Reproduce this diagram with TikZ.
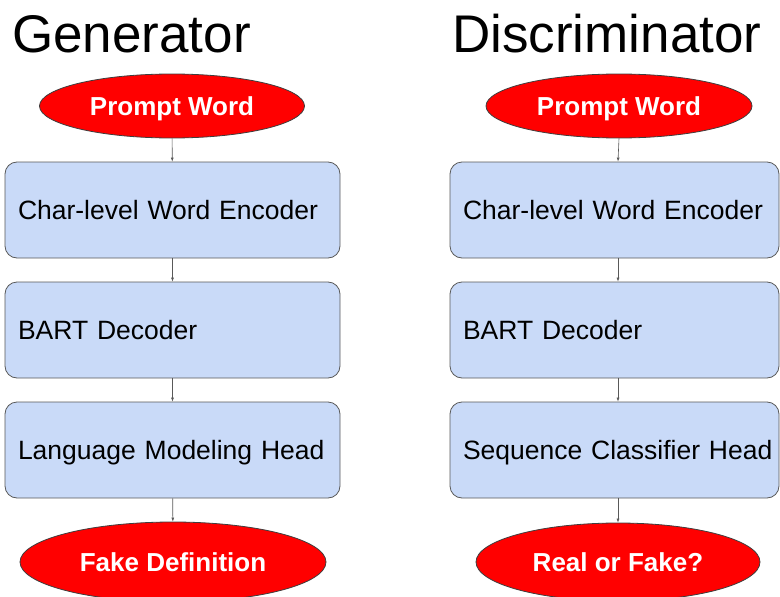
\documentclass[tikz,border=0pt]{standalone}
\usepackage{fontspec}
\setmainfont{Liberation Sans}
\usetikzlibrary{arrows.meta,shapes.geometric}
\definecolor{boxblue}{HTML}{C9DAF8}
\definecolor{edgegray}{HTML}{595959}
\tikzset{
  title/.style={font=\fontsize{53}{60}\selectfont, anchor=base west, inner sep=0pt},
  blockbox/.style={draw=edgegray, line width=0.8pt, fill=boxblue, rounded corners=12pt,
    minimum height=96pt, inner xsep=13pt, align=left, text depth=0pt,
    font=\fontsize{26.5}{30}\selectfont},
  terminal/.style={ellipse, draw=edgegray!70!black, line width=0.8pt, fill=red, text=white,
    inner sep=0pt, text depth=0pt, font=\fontsize{26}{30}\selectfont\bfseries},
  flow/.style={draw=edgegray, line width=0.6pt, -{Latex[length=4pt,width=3pt]}}
}
\begin{document}
\begin{tikzpicture}[x=1pt,y=-1pt]
  \useasboundingbox (0,0) rectangle (780,597);
  \clip (0,0) rectangle (780,597);

  %%%%% GENERATOR %%%%%
  \node[title] (gentitle) at (12,52) {Generator};
  \node[terminal, minimum width=265pt, minimum height=64pt] (genin) at (172,106) {Prompt Word};
  \node[blockbox, text width=309pt] (genenc) at (172.5,210) {\mbox{Char-level Word Encoder}};
  \node[blockbox, text width=309pt] (gendec) at (172.5,330) {\mbox{BART Decoder}};
  \node[blockbox, text width=309pt] (genhead) at (172.5,450) {\mbox{Language Modeling Head}};
  \node[terminal, minimum width=306pt, minimum height=80pt] (genout) at (173,562) {Fake Definition};

  \draw[flow] (genin) -- (genenc);
  \draw[flow] (genenc) -- (gendec);
  \draw[flow] (gendec) -- (genhead);
  \draw[flow] (genhead) -- (genout);

  %%%%% DISCRIMINATOR %%%%%
  \node[title] (distitle) at (452,52) {Discriminator};
  \node[terminal, minimum width=266pt, minimum height=64pt] (disin) at (619,106) {Prompt Word};
  \node[blockbox, text width=303pt] (disenc) at (614.5,210) {\mbox{Char-level Word Encoder}};
  \node[blockbox, text width=303pt] (disdec) at (614.5,330) {\mbox{BART Decoder}};
  \node[blockbox, text width=303pt] (dishead) at (614.5,450) {\mbox{Sequence Classifier Head}};
  \node[terminal, minimum width=284pt, minimum height=78pt] (disout) at (618,562) {Real or Fake?};

  \draw[flow] (disin.south) -- (disenc.north -| disout);
  \draw[flow] (disenc.south -| disout) -- (disdec.north -| disout);
  \draw[flow] (disdec.south -| disout) -- (dishead.north -| disout);
  \draw[flow] (dishead.south -| disout) -- (disout.north);
\end{tikzpicture}
\end{document}
